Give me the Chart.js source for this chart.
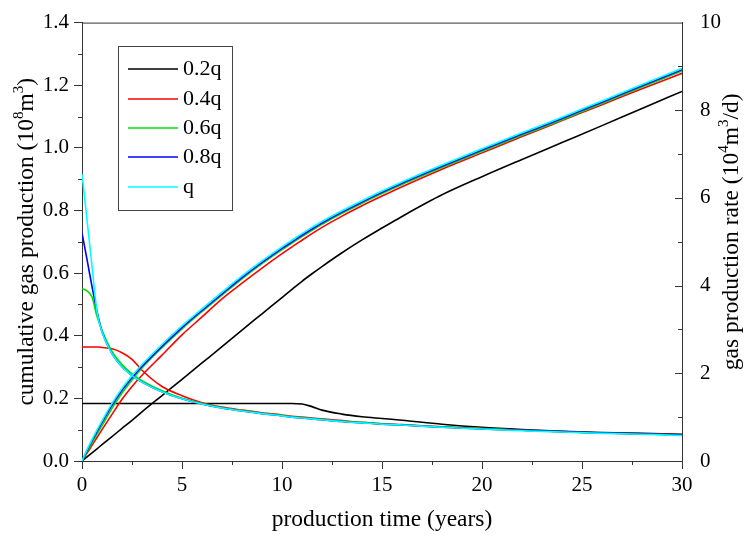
<!DOCTYPE html>
<html>
<head>
<meta charset="utf-8">
<script src="https://cdn.jsdelivr.net/npm/chart.js@4.4.1/dist/chart.umd.min.js"></script>
<style>
  html, body { margin: 0; padding: 0; background: #fff; }
  #wrap { width: 745px; height: 537px; }
</style>
</head>
<body>
<div id="wrap"><canvas id="gasChart" width="745" height="537"></canvas></div>
<script>
// production time (years)
const years = [0, 0.25, 0.5, 0.75, 1, 1.5, 2, 2.5, 3, 4, 5, 6, 7, 8, 9, 10, 10.5, 11, 11.5, 12, 13, 14, 15, 16, 18, 20, 22, 24, 26, 28, 30];

const seriesLabels = ['0.2q', '0.4q', '0.6q', '0.8q', 'q'];
const seriesColors = ['#000000', '#ff0000', '#00e000', '#0000ff', '#00ffff'];

// cumulative gas production (10^8 m^3), left axis
const cum02 = [0, 0.013, 0.026, 0.039, 0.052, 0.078, 0.104, 0.13, 0.157, 0.209, 0.261, 0.313, 0.365, 0.418, 0.47, 0.522, 0.548, 0.574, 0.598, 0.621, 0.665, 0.706, 0.744, 0.781, 0.85, 0.908, 0.963, 1.017, 1.071, 1.126, 1.18];
const cum04 = [0, 0.025, 0.05, 0.075, 0.1, 0.149, 0.197, 0.238, 0.274, 0.338, 0.403, 0.46, 0.518, 0.568, 0.616, 0.662, 0.684, 0.705, 0.726, 0.746, 0.782, 0.815, 0.846, 0.876, 0.932, 0.984, 1.036, 1.087, 1.138, 1.189, 1.238];
const cum06 = [0, 0.03, 0.058, 0.086, 0.113, 0.168, 0.217, 0.259, 0.297, 0.362, 0.422, 0.477, 0.53, 0.582, 0.63, 0.675, 0.696, 0.717, 0.737, 0.756, 0.791, 0.823, 0.854, 0.883, 0.937, 0.989, 1.04, 1.09, 1.142, 1.194, 1.246];
const cum08 = [0, 0.033, 0.064, 0.094, 0.123, 0.178, 0.226, 0.266, 0.302, 0.366, 0.426, 0.481, 0.534, 0.586, 0.634, 0.679, 0.7, 0.721, 0.741, 0.76, 0.795, 0.827, 0.858, 0.887, 0.941, 0.993, 1.044, 1.094, 1.146, 1.198, 1.25];
const cumQ = [0, 0.036, 0.068, 0.099, 0.128, 0.184, 0.232, 0.272, 0.308, 0.372, 0.432, 0.486, 0.539, 0.591, 0.639, 0.684, 0.705, 0.726, 0.746, 0.765, 0.799, 0.831, 0.862, 0.891, 0.945, 0.997, 1.048, 1.098, 1.15, 1.202, 1.254];

// gas production rate (10^4 m^3/d), right axis
const rate02 = [1.31, 1.31, 1.31, 1.31, 1.31, 1.31, 1.31, 1.31, 1.31, 1.31, 1.31, 1.31, 1.31, 1.31, 1.31, 1.31, 1.31, 1.3, 1.24, 1.16, 1.07, 1.01, 0.97, 0.93, 0.84, 0.77, 0.72, 0.68, 0.65, 0.63, 0.61];
const rate04 = [2.6, 2.6, 2.6, 2.6, 2.59, 2.56, 2.47, 2.32, 2.07, 1.7, 1.49, 1.33, 1.23, 1.16, 1.1, 1.05, 1.02, 1.0, 0.98, 0.96, 0.92, 0.88, 0.85, 0.83, 0.78, 0.74, 0.7, 0.67, 0.64, 0.62, 0.6];
const rate06 = [3.93, 3.88, 3.74, 3.3, 2.98, 2.5, 2.2, 1.99, 1.83, 1.6, 1.43, 1.31, 1.22, 1.15, 1.09, 1.04, 1.01, 0.99, 0.97, 0.95, 0.91, 0.88, 0.85, 0.82, 0.78, 0.74, 0.7, 0.67, 0.64, 0.62, 0.59];
const rate08 = [5.2, 4.6, 3.98, 3.42, 2.95, 2.45, 2.15, 1.95, 1.8, 1.58, 1.42, 1.3, 1.21, 1.14, 1.08, 1.03, 1.0, 0.98, 0.96, 0.94, 0.9, 0.87, 0.84, 0.82, 0.77, 0.73, 0.7, 0.67, 0.64, 0.62, 0.59];
const rateQ = [6.55, 5.5, 4.45, 3.4, 2.95, 2.45, 2.15, 1.95, 1.8, 1.58, 1.42, 1.3, 1.21, 1.14, 1.08, 1.03, 1.0, 0.98, 0.96, 0.94, 0.9, 0.87, 0.84, 0.82, 0.77, 0.73, 0.69, 0.66, 0.63, 0.61, 0.58];

const cumSeries = [cum02, cum04, cum06, cum08, cumQ];
const rateSeries = [rate02, rate04, rate06, rate08, rateQ];

const FONT = '"Liberation Serif", "Times New Roman", serif';
const AXIS = '#333333';
const TITLE_SIZE = 23.5;

Chart.defaults.font.family = FONT;
Chart.defaults.color = '#000';

function toPoints(values) {
  return values.map((v, i) => ({ x: years[i], y: v }));
}

function makeDataset(values, idx, axis) {
  return {
    label: seriesLabels[idx],
    data: toPoints(values),
    yAxisID: axis,
    borderColor: seriesColors[idx],
    borderWidth: 1.6,
    pointRadius: 0,
    fill: false,
    cubicInterpolationMode: 'monotone',
    order: 4 - idx, // q (cyan) ends up on top
  };
}

const datasets = [];
cumSeries.forEach((s, i) => datasets.push(makeDataset(s, i, 'y')));
rateSeries.forEach((s, i) => datasets.push(makeDataset(s, i, 'y1')));

// text with superscripts, rotated about its centre
function drawRich(ctx, parts, x, y, rot, size) {
  const base = `${size}px ${FONT}`;
  const sup = `${Math.round(size * 0.62)}px ${FONT}`;
  ctx.save();
  ctx.translate(x, y);
  ctx.rotate(rot);
  ctx.textBaseline = 'middle';
  ctx.textAlign = 'left';
  ctx.fillStyle = '#000';
  let w = 0;
  parts.forEach(p => { ctx.font = p.sup ? sup : base; w += ctx.measureText(p.t).width; });
  let cx = -w / 2;
  parts.forEach(p => {
    ctx.font = p.sup ? sup : base;
    ctx.fillText(p.t, cx, p.sup ? -size * 0.33 : 0);
    cx += ctx.measureText(p.t).width;
  });
  ctx.restore();
}

const leftTitle = [{ t: 'cumulative gas production (10' }, { t: '8', sup: true }, { t: 'm' }, { t: '3', sup: true }, { t: ')' }];
const rightTitle = [{ t: 'gas production rate (10' }, { t: '4', sup: true }, { t: 'm' }, { t: '3', sup: true }, { t: '/d)' }];

// frame, minor ticks, inward right ticks, y titles, legend
const decorations = {
  id: 'decorations',
  afterDraw(chart) {
    const { ctx, chartArea: a, scales: { x, y, y1 } } = chart;
    ctx.save();
    ctx.strokeStyle = AXIS;
    ctx.lineWidth = 1;
    ctx.beginPath();
    ctx.moveTo(a.left, a.top + 0.5);
    ctx.lineTo(a.right, a.top + 0.5);
    for (let v = 2.5; v < 30; v += 5) {
      const px = Math.round(x.getPixelForValue(v)) + 0.5;
      ctx.moveTo(px, a.bottom);
      ctx.lineTo(px, a.bottom + 4);
    }
    for (let k = 1; k < 14; k += 2) {
      const py = Math.round(y.getPixelForValue(k / 10)) + 0.5;
      ctx.moveTo(a.left - 4, py);
      ctx.lineTo(a.left, py);
    }
    for (let v = 1; v < 10; v++) {
      const py = Math.round(y1.getPixelForValue(v)) + 0.5;
      const len = v % 2 ? 4 : 7;
      ctx.moveTo(a.right - len, py);
      ctx.lineTo(a.right, py);
    }
    ctx.stroke();

    const midY = (a.top + a.bottom) / 2;
    drawRich(ctx, leftTitle, 27, midY, -Math.PI / 2, TITLE_SIZE);
    drawRich(ctx, rightTitle, 732, midY - 10, -Math.PI / 2, TITLE_SIZE);

    // legend box
    ctx.strokeStyle = '#444';
    ctx.strokeRect(118.5, 46.5, 114, 164);
    const rows = [69, 99, 128, 157, 187];
    ctx.font = `22px ${FONT}`;
    ctx.textBaseline = 'middle';
    ctx.fillStyle = '#000';
    seriesLabels.forEach((lab, i) => {
      ctx.strokeStyle = seriesColors[i];
      ctx.lineWidth = 1.6;
      ctx.beginPath();
      ctx.moveTo(128, rows[i]);
      ctx.lineTo(178, rows[i]);
      ctx.stroke();
      ctx.fillText(lab, 183, rows[i]);
    });
    ctx.restore();
  }
};

new Chart(document.getElementById('gasChart'), {
  type: 'line',
  data: { datasets },
  options: {
    responsive: false,
    animation: false,
    devicePixelRatio: 1,
    layout: { padding: { top: 17, left: 0, right: 0, bottom: 0 } },
    plugins: {
      legend: { display: false },
      tooltip: { enabled: false }
    },
    scales: {
      x: {
        type: 'linear',
        min: 0,
        max: 30,
        ticks: { stepSize: 5, font: { size: 21 }, padding: 4, maxRotation: 0 },
        grid: { drawOnChartArea: false, tickLength: 8, color: AXIS },
        border: { color: AXIS },
        title: { display: true, text: 'production time (years)', font: { size: TITLE_SIZE }, padding: { top: 0, bottom: 3 } },
        afterFit: s => { s.height = 76; }
      },
      y: {
        position: 'left',
        min: 0,
        max: 1.4,
        ticks: { stepSize: 0.2, font: { size: 21 }, padding: 5, callback: v => v.toFixed(1) },
        grid: { drawOnChartArea: false, tickLength: 8, color: AXIS },
        border: { color: AXIS },
        afterFit: s => { s.width = 82; }
      },
      y1: {
        position: 'right',
        min: 0,
        max: 10,
        ticks: { stepSize: 2, font: { size: 21 }, padding: 10 },
        grid: { display: false },
        border: { display: true, color: AXIS },
        afterFit: s => { s.width = 63; }
      }
    }
  },
  plugins: [decorations]
});
</script>
</body>
</html>
